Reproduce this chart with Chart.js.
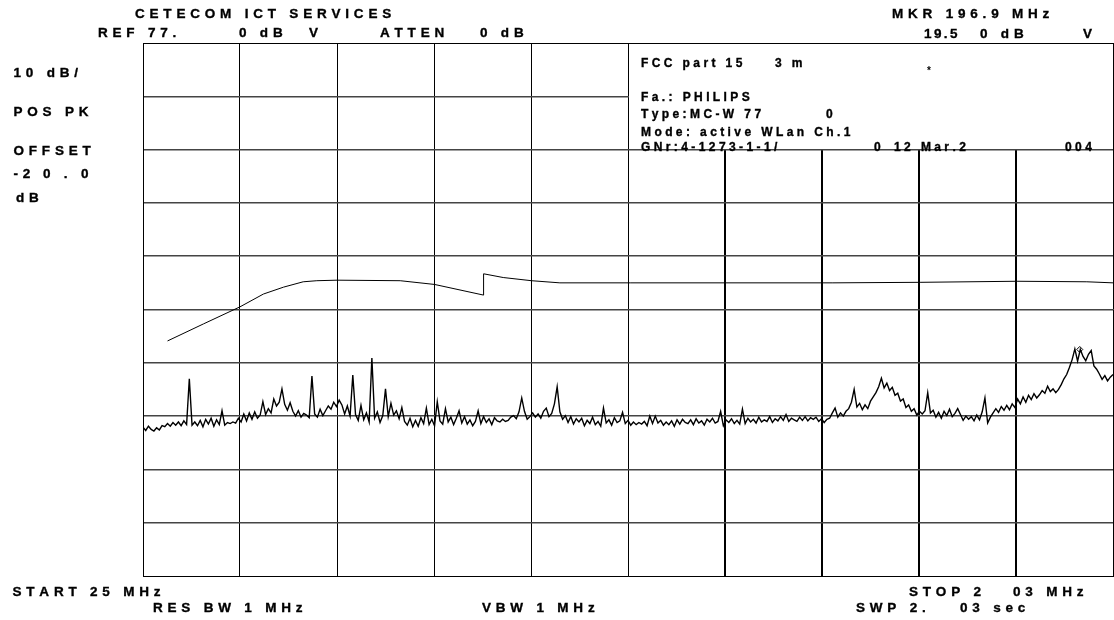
<!DOCTYPE html>
<html>
<head>
<meta charset="utf-8">
<script src="https://cdn.jsdelivr.net/npm/chart.js@4.4.1/dist/chart.umd.min.js"></script>
<style>
  html, body { margin: 0; padding: 0; background: #fff; }
  #wrap { position: relative; width: 1114px; height: 620px; }
</style>
</head>
<body>
<div id="wrap"><canvas id="spectrum"></canvas></div>
<script>
// Sweep settings (from the analyzer header)
const startMHz = 25;
const stopMHz = 203;
const stepMHz = 0.5;
const refLevel = 77;
const dbPerDiv = 10;

// Measured trace in dBuV, one reading every 0.5 MHz starting at 25 MHz
const traceLevel = [
  4.9, 4.3, 5.1, 4.5, 4.2, 4.8, 4.4, 5.2, 5.0, 5.6, 5.1, 5.8, 5.3, 5.9, 5.2, 6.1, 5.4, 14.0, 5.3, 5.9,
  5.2, 6.2, 5.0, 6.4, 5.5, 6.6, 5.1, 6.3, 5.4, 8.0, 5.3, 5.8, 5.6, 5.9, 5.7, 6.6, 5.9, 7.4, 6.1, 7.6,
  6.4, 7.8, 6.6, 7.2, 9.7, 7.3, 8.4, 7.6, 10.2, 8.9, 9.6, 12.1, 9.2, 8.1, 9.5, 7.9, 7.0, 8.0, 6.8, 7.5,
  7.2, 6.7, 14.5, 7.4, 6.8, 8.3, 7.1, 8.0, 8.9, 8.3, 9.6, 8.8, 10.0, 9.1, 7.4, 8.9, 7.0, 14.7, 7.3, 6.2,
  9.0, 6.3, 7.6, 5.9, 17.9, 6.6, 7.8, 5.8, 7.1, 12.1, 6.9, 9.4, 7.2, 8.0, 6.5, 8.6, 6.0, 5.3, 6.6, 5.0,
  6.2, 5.1, 6.7, 5.6, 8.5, 5.4, 6.4, 5.2, 9.7, 6.1, 5.5, 8.4, 5.9, 6.8, 5.4, 6.6, 8.0, 5.7, 6.9, 5.5,
  6.3, 5.2, 6.0, 8.0, 5.6, 6.9, 5.8, 6.5, 5.4, 6.7, 6.1, 5.9, 6.4, 6.0, 6.2, 6.8, 7.1, 6.5, 7.8, 10.4,
  7.9, 6.4, 6.9, 7.6, 6.8, 7.4, 6.6, 7.9, 8.5, 6.9, 7.5, 9.3, 12.5, 7.8, 6.4, 7.1, 5.8, 6.9, 5.5, 6.5,
  5.9, 6.6, 5.2, 6.2, 5.6, 6.8, 5.4, 6.0, 5.1, 8.5, 5.7, 6.3, 5.3, 6.7, 5.8, 6.1, 7.7, 5.6, 6.2, 5.3,
  5.9, 5.4, 5.8, 5.5, 6.0, 5.2, 7.0, 5.6, 7.0, 5.7, 6.2, 5.3, 5.9, 5.4, 6.1, 5.1, 6.3, 5.5, 6.4, 5.8,
  5.6, 6.3, 5.4, 6.5, 5.7, 6.1, 5.3, 6.4, 5.9, 6.6, 5.7, 6.0, 7.9, 5.2, 6.3, 5.8, 6.5, 5.6, 6.2, 5.5,
  8.3, 5.6, 6.6, 5.9, 6.4, 5.7, 6.8, 5.9, 6.3, 6.0, 6.9, 5.8, 6.5, 6.1, 6.9, 6.2, 7.3, 6.0, 6.6, 6.3,
  6.0, 6.8, 6.2, 6.9, 6.1, 6.7, 6.4, 6.8, 6.0, 6.5, 5.8, 6.4, 6.6, 7.6, 8.5, 6.8, 7.6, 7.0, 7.9, 8.4,
  9.6, 12.0, 8.7, 9.4, 8.2, 9.1, 8.4, 9.8, 10.6, 11.4, 12.5, 14.1, 12.3, 13.2, 11.8, 12.4, 10.9, 11.3, 9.8, 10.2,
  8.6, 9.1, 7.9, 8.4, 7.2, 7.9, 7.4, 8.0, 11.4, 7.6, 8.1, 6.8, 7.7, 6.6, 7.9, 7.1, 8.3, 6.9, 7.5, 8.4,
  7.3, 6.2, 7.0, 6.4, 6.9, 6.1, 7.2, 6.3, 7.8, 10.4, 5.7, 6.8, 7.6, 8.4, 7.7, 8.8, 8.1, 9.0, 8.2, 9.3,
  8.6, 10.2, 9.3, 10.6, 9.6, 10.9, 10.1, 11.2, 10.4, 11.0, 11.8, 11.3, 12.6, 11.6, 12.1, 11.4, 12.0, 12.9, 14.0, 14.8,
  16.1, 17.6, 19.6, 17.3, 19.5, 18.2, 17.4, 18.6, 19.3, 16.4, 15.8, 14.9, 13.9, 14.6, 13.6, 14.3, 14.8
];

// Limit line (MHz / dBuV)
const limitFreq = [29.5, 36.1, 42.8, 47.1, 50.8, 54.4, 56.9, 60.6, 72.2, 78.5, 87.5, 87.5, 91.1, 96.3, 101.5, 114.4, 151.6, 167.6, 185.4, 198.2, 203];
const limitLevel = [21.1, 24.3, 27.5, 29.9, 31.2, 32.2, 32.4, 32.5, 32.4, 31.7, 29.7, 33.7, 33.0, 32.4, 32.0, 32.0, 32.0, 32.1, 32.3, 32.2, 32.0];

// Marker
const markerFreq = [196.9];
const markerLevel = [19.5];

// Screen annotations: text, x, y (optional letter gap)
const mainTexts = [
  ['CETECOM ICT SERVICES', 135, 17.5],
  ['REF 77.', 98, 37],
  ['0 dB', 239, 37],
  ['V', 309, 37],
  ['ATTEN', 380, 37],
  ['0 dB', 480, 37],
  ['MKR 196.9 MHz', 892, 18],
  ['19.5', 924, 37.5, 2.4],
  ['0 dB', 980, 37.5],
  ['V', 1083, 37.5],
  ['10 dB/', 13.5, 76.5],
  ['POS PK', 13.5, 115.5],
  ['OFFSET', 13.5, 154.5],
  ['-2', 13.5, 177.5],
  ['0 . 0', 43, 177.5],
  ['dB', 16, 202],
  ['START 25 MHz', 12.5, 595.5],
  ['RES BW 1 MHz', 153, 612],
  ['VBW 1 MHz', 482, 612],
  ['STOP 2', 909, 595.5],
  ['03 MHz', 1013, 595.5],
  ['SWP 2.', 856, 612],
  ['03 sec', 960, 612]
];
const boxTexts = [
  ['FCC part 15', 641, 66.5],
  ['3 m', 775, 66.5],
  ['Fa.: PHILIPS', 641, 100.5],
  ['Type:MC-W 77', 641, 117.5],
  ['0', 826, 117.5],
  ['Mode: active WLan Ch.1', 641, 136],
  ['GNr:4-1273-1-1/', 641, 151],
  ['0', 874, 151],
  ['12 Mar.2', 894, 151],
  ['004', 1065, 151]
];

const FONT = '"Liberation Sans", Arial, sans-serif';

function spaced(ctx, str, x, y, gap) {
  for (const ch of str) {
    ctx.fillText(ch, x, y);
    ctx.strokeText(ch, x, y);
    x += ctx.measureText(ch).width + gap;
  }
}

const screenPlugin = {
  id: 'screen',
  // blank out the grid behind the info box (upper right)
  beforeDatasetsDraw(chart) {
    const {ctx, chartArea: a, scales: {x, y}} = chart;
    const boxLeft = Math.round(x.getPixelForValue(startMHz + (stopMHz - startMHz) / 2));
    const boxBottom = Math.round(y.getPixelForValue(refLevel - 2 * dbPerDiv) - 0.75);
    ctx.save();
    ctx.fillStyle = '#fff';
    ctx.fillRect(boxLeft + 1, a.top + 1, Math.round(a.right) - boxLeft - 1, boxBottom - a.top - 1);
    ctx.restore();
  },
  afterDraw(chart) {
    const ctx = chart.ctx;
    ctx.save();
    ctx.fillStyle = '#000';
    ctx.strokeStyle = '#000';
    ctx.lineWidth = 0.35;
    ctx.textBaseline = 'alphabetic';
    ctx.font = 'bold 13.5px ' + FONT;
    mainTexts.forEach(t => spaced(ctx, t[0], t[1], t[2], t[3] ?? 4.8));
    ctx.font = 'bold 12px ' + FONT;
    boxTexts.forEach(t => spaced(ctx, t[0], t[1], t[2], 3.4));
    ctx.font = 'bold 10px ' + FONT;
    ctx.fillText('*', 927, 74);
    ctx.restore();
  }
};

const traceData = traceLevel.map((v, i) => ({x: startMHz + i * stepMHz, y: v}));
const limitData = limitFreq.map((f, i) => ({x: f, y: limitLevel[i]}));
const markerData = markerFreq.map((f, i) => ({x: f, y: markerLevel[i]}));

const ctx = document.getElementById('spectrum').getContext('2d');

new Chart(ctx, {
  type: 'line',
  data: {
    datasets: [
      {
        label: 'Trace',
        data: traceData,
        borderColor: '#000',
        borderWidth: 1.4,
        pointRadius: 0,
        tension: 0
      },
      {
        label: 'Limit',
        data: limitData,
        borderColor: '#000',
        borderWidth: 1,
        pointRadius: 0,
        tension: 0
      },
      {
        label: 'Marker',
        data: markerData,
        showLine: false,
        pointStyle: 'rectRot',
        pointRadius: 3,
        borderColor: '#000',
        borderWidth: 1,
        backgroundColor: '#fff'
      }
    ]
  },
  options: {
    responsive: true,
    maintainAspectRatio: false,
    animation: false,
    layout: { autoPadding: false, padding: { left: 143, top: 43, right: 1, bottom: 44 } },
    plugins: { legend: { display: false }, tooltip: { enabled: false } },
    scales: {
      x: {
        type: 'linear',
        min: startMHz,
        max: stopMHz,
        ticks: { display: false, stepSize: (stopMHz - startMHz) / 10, autoSkip: false },
        grid: {
          drawTicks: false,
          color: '#000',
          lineWidth: c => (c.index >= 6 && c.index <= 9) ? 2 : 1
        },
        border: { display: true, color: '#000', width: 1 }
      },
      y: {
        min: refLevel - 10 * dbPerDiv,
        max: refLevel,
        ticks: { display: false, stepSize: dbPerDiv, autoSkip: false },
        grid: {
          drawTicks: false,
          color: c => (c.index === 0 || c.index === 10) ? '#000' : '#444',
          lineWidth: c => (c.index === 0 || c.index === 10) ? 1 : 1.5
        },
        border: { display: true, color: '#000', width: 1 }
      }
    }
  },
  plugins: [screenPlugin]
});
</script>
</body>
</html>
